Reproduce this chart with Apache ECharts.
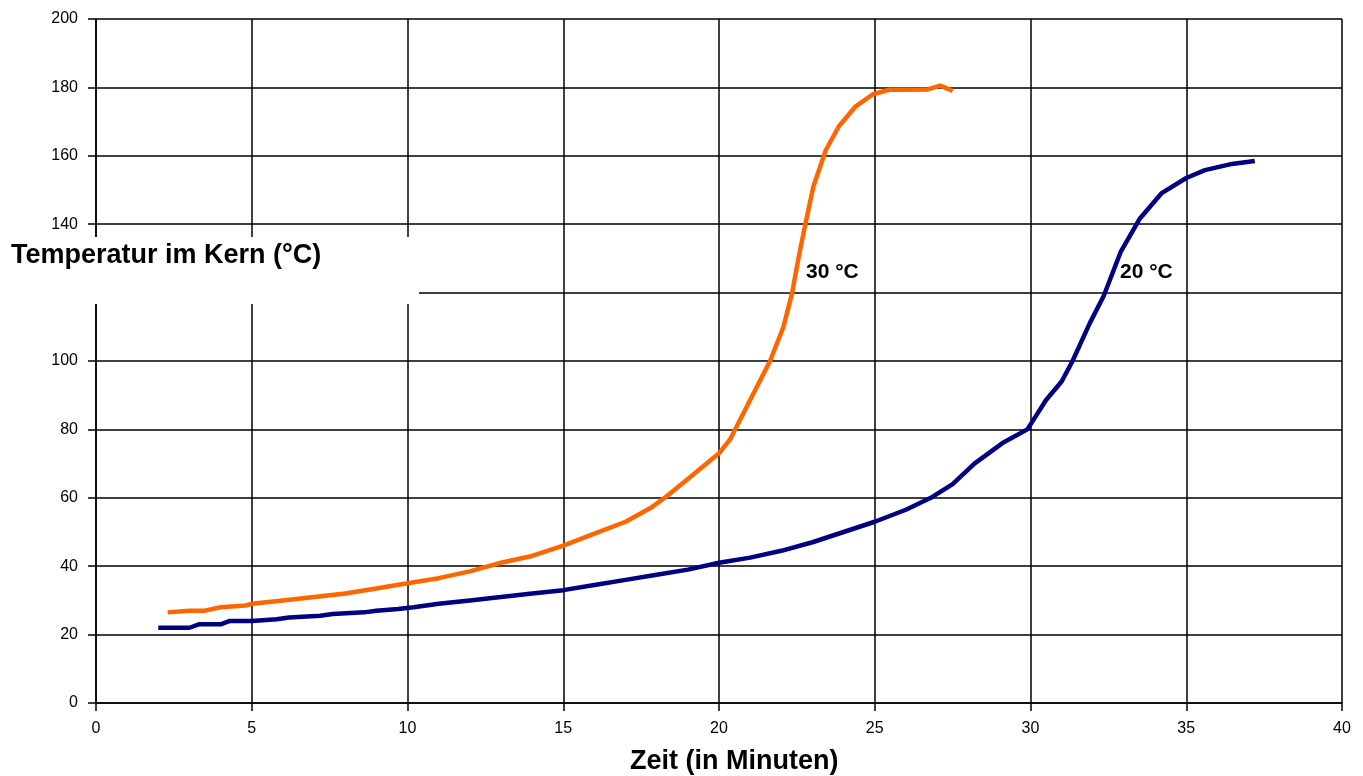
<!DOCTYPE html>
<html>
<head>
<meta charset="utf-8">
<script src="https://cdn.jsdelivr.net/npm/echarts@6/dist/echarts.min.js"></script>
<style>html,body{margin:0;padding:0;background:#fff}#c{width:1363px;height:776px}</style>
</head>
<body>
<div id="c"></div>
<script>
// Zeit (Minuten), Temperatur (°C)
const series30Label = '30 °C';
const series20Label = '20 °C';
const yAxisTitle = 'Temperatur im Kern (°C)';
const xAxisTitle = 'Zeit (in Minuten)';

const time30 = [2.3,3.0,3.5,4.0,4.8,5.0,6.0,7.0,8.0,9.0,10.0,11.0,12.0,13.0,14.0,15.0,16.0,17.0,17.8,18.3,19.0,20.0,20.35,21.0,21.64,22.07,22.35,22.55,22.76,23.03,23.43,23.84,24.38,24.94,25.46,26.0,26.7,27.1,27.5];
const temp30 = [26.5,27,27,28,28.5,29,30,31,32,33.5,35,36.5,38.5,41,43,46,49.5,53,57,60.3,65.5,73,77,88.6,100,110,120,130,139.5,151,161.7,168.5,174.4,178,179.3,179.3,179.4,180.5,179];

const time20 = [2.0,3.0,3.3,4.0,4.3,5.0,5.8,6.2,7.2,7.6,8.6,9.0,9.7,10.2,11.0,12.0,13.0,14.0,15.0,16.0,17.0,18.0,19.0,20.0,21.0,22.0,23.0,24.0,25.0,26.0,26.8,27.5,28.2,29.1,29.9,30.5,31.0,31.35,31.9,32.35,32.9,33.5,34.2,35.0,35.6,36.4,37.2];
const temp20 = [22,22,23,23,24,24,24.5,25,25.5,26,26.5,27,27.5,28,29,30,31,32,33,34.5,36,37.5,39,41,42.5,44.5,47,50,53,56.5,60,64,70,76,80,88.6,94,100,111,119,132,141.5,149,153.5,155.8,157.5,158.5];

const xTicks = {min: 0, max: 40, interval: 5};
const yTicks = {min: 0, max: 200, interval: 20};
const hiddenYLabel = 120;

const zip = (a, b) => a.map((v, i) => [v, b[i]]);
const font = '"Liberation Sans", Arial, sans-serif';

const chart = echarts.init(document.getElementById('c'), null, {renderer: 'canvas'});
chart.setOption({
  animation: false,
  backgroundColor: '#fff',
  grid: {left: 96, top: 19, right: 21, bottom: 73, containLabel: false},
  xAxis: {
    type: 'value', min: xTicks.min, max: xTicks.max, interval: xTicks.interval,
    axisLine: {show: true, lineStyle: {color: '#000', width: 1.5}},
    axisTick: {show: true, inside: false, length: 8, lineStyle: {color: '#000', width: 1.5}},
    axisLabel: {color: '#000', fontFamily: font, fontSize: 16, margin: 18},
    splitLine: {show: true, lineStyle: {color: '#000', width: 1.5}}
  },
  yAxis: {
    type: 'value', min: yTicks.min, max: yTicks.max, interval: yTicks.interval,
    axisLine: {show: true, lineStyle: {color: '#000', width: 1.5}},
    axisTick: {show: true, inside: false, length: 8, lineStyle: {color: '#000', width: 1.5}},
    axisLabel: {color: '#000', fontFamily: font, fontSize: 16, margin: 18,
      formatter: v => v === hiddenYLabel ? '' : String(v)},
    splitLine: {show: true, lineStyle: {color: '#000', width: 1.5}}
  },
  series: [
    {type: 'line', name: series30Label, data: zip(time30, temp30), showSymbol: false, smooth: false,
      lineStyle: {color: '#FF6600', width: 4.5}, itemStyle: {color: '#FF6600'}, z: 3},
    {type: 'line', name: series20Label, data: zip(time20, temp20), showSymbol: false, smooth: false,
      lineStyle: {color: '#000080', width: 4.5}, itemStyle: {color: '#000080'}, z: 3}
  ],
  graphic: [
    {type: 'rect', z: 100, shape: {x: 0, y: 237, width: 419, height: 67}, style: {fill: '#fff'}},
    {type: 'text', z: 101, x: 11, y: 256, style: {text: yAxisTitle, fill: '#000', font: 'bold 27px ' + font, textVerticalAlign: 'middle'}},
    {type: 'text', z: 101, x: 630, y: 762, style: {text: xAxisTitle, fill: '#000', font: 'bold 27px ' + font, textVerticalAlign: 'middle'}},
    {type: 'text', z: 101, x: 806, y: 272, style: {text: series30Label, fill: '#000', font: 'bold 21px ' + font, textVerticalAlign: 'middle'}},
    {type: 'text', z: 101, x: 1120, y: 272, style: {text: series20Label, fill: '#000', font: 'bold 21px ' + font, textVerticalAlign: 'middle'}}
  ]
});
</script>
</body>
</html>
